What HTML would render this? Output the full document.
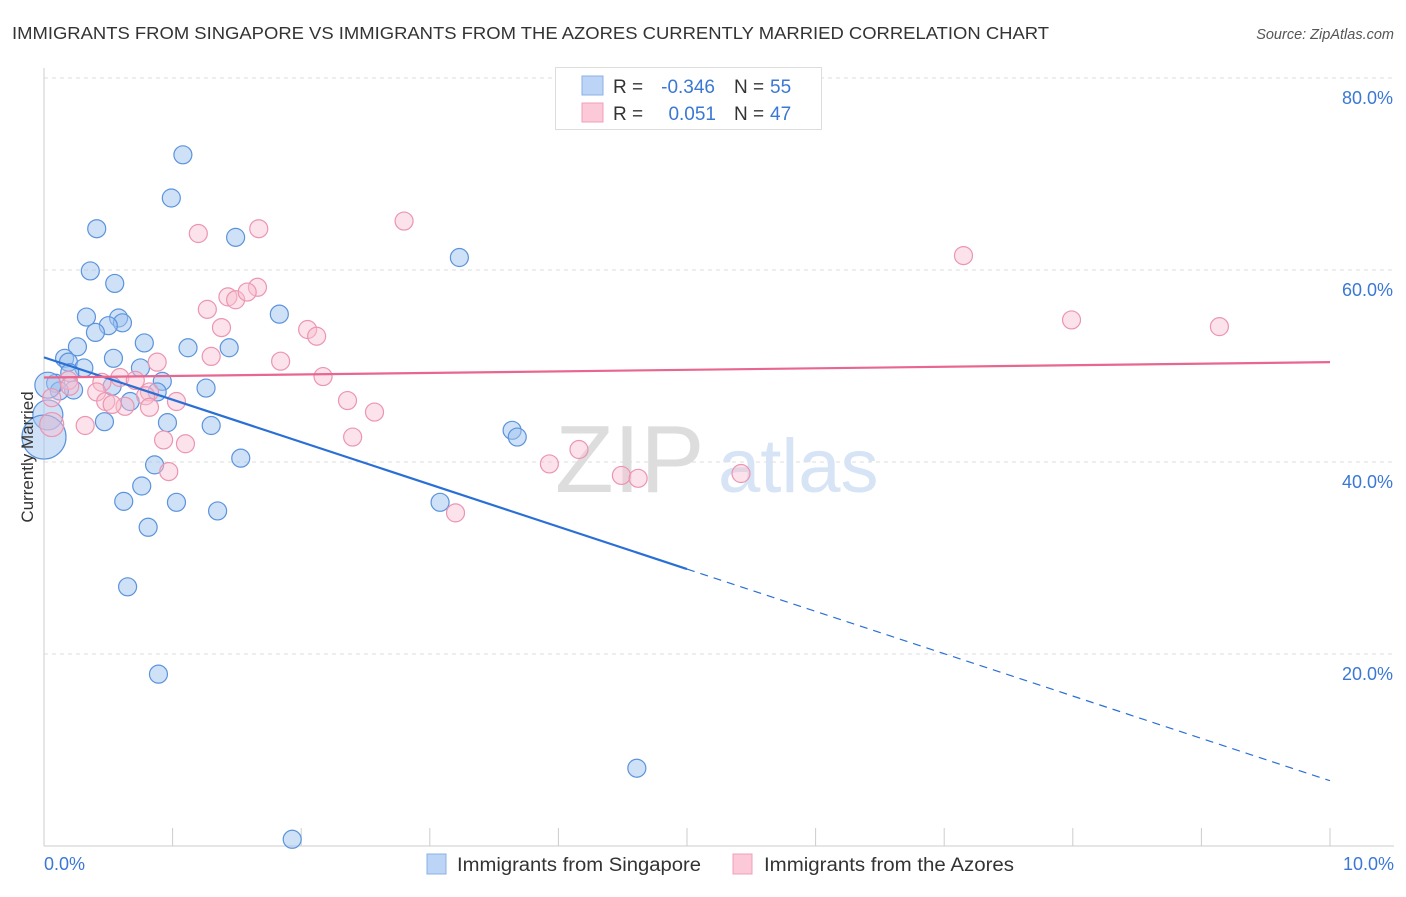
<!DOCTYPE html>
<html><head><meta charset="utf-8"><style>
body{margin:0;background:#fff;font-family:"Liberation Sans",sans-serif;}
svg text{font-family:"Liberation Sans",sans-serif;}
</style></head><body>
<svg id="chart" width="1406" height="892" xmlns="http://www.w3.org/2000/svg">
<text x="12" y="39" font-size="17.5" fill="#333" textLength="1037" lengthAdjust="spacingAndGlyphs">IMMIGRANTS FROM SINGAPORE VS IMMIGRANTS FROM THE AZORES CURRENTLY MARRIED CORRELATION CHART</text>
<text x="1394" y="39" font-size="14.5" fill="#555" font-style="italic" text-anchor="end">Source: ZipAtlas.com</text>
<g id="grid"></g>
<text x="555" y="492" font-size="96" fill="#ddd" font-family="Liberation Serif">ZIP</text>
<text x="718" y="492" font-size="76" fill="#d6e4f5">atlas</text>
<line x1="44" y1="68" x2="44" y2="846" stroke="#ccc"/>
<line x1="44" y1="846" x2="1394" y2="846" stroke="#ccc"/>
<g id="marks"></g>
<text transform="translate(33,457) rotate(-90)" font-size="17" fill="#333" text-anchor="middle">Currently Married</text>
<text x="44" y="870" font-size="18" fill="#3a78d4">0.0%</text>
<text x="1394" y="870" font-size="18" fill="#3a78d4" text-anchor="end">10.0%</text>
<g>
<rect x="555.5" y="67.5" width="266" height="62" fill="#fff" stroke="#ddd"/>
<rect x="582" y="76" width="21" height="19" fill="#bcd4f5" stroke="#8ab0e6"/>
<rect x="582" y="103" width="21" height="19" fill="#fbc9d7" stroke="#f0a0b8"/>
<text x="613" y="93" font-size="19" fill="#333">R =</text>
<text x="715" y="93" font-size="19" fill="#3a78d4" text-anchor="end">-0.346</text>
<text x="734" y="93" font-size="19" fill="#333">N =</text>
<text x="770" y="93" font-size="19" fill="#3a78d4">55</text>
<text x="613" y="120" font-size="19" fill="#333">R =</text>
<text x="716" y="120" font-size="19" fill="#3a78d4" text-anchor="end">0.051</text>
<text x="734" y="120" font-size="19" fill="#333">N =</text>
<text x="770" y="120" font-size="19" fill="#3a78d4">47</text>
</g>
<g>
<rect x="427" y="854" width="19" height="20" fill="#bcd4f5" stroke="#8ab0e6"/>
<text x="457" y="871" font-size="19" fill="#333" textLength="244" lengthAdjust="spacingAndGlyphs">Immigrants from Singapore</text>
<rect x="733" y="854" width="19" height="20" fill="#fbc9d7" stroke="#f0a0b8"/>
<text x="764" y="871" font-size="19" fill="#333" textLength="250" lengthAdjust="spacingAndGlyphs">Immigrants from the Azores</text>
</g>
</svg>
<script>
const yTicks=[20,40,60,80];
const yTickLabels=["20.0%","40.0%","60.0%","80.0%"];
const xTicks=[0,1,2,3,4,5,6,7,8,9,10];
const blueX=[1.08,0.99,0.41,1.49,3.23,0.36,0.55,1.83,0.33,0.58,0.61,0.50,0.40,0.78,1.12,1.44,0.26,0.16,0.54,0.19,0.75,0.31,0.20,0.92,1.26,0.09,0.53,0.23,0.12,0.88,0.67,0.96,1.30,3.64,3.68,0.47,0.03,0.0,0.86,1.53,0.76,0.62,1.03,3.08,1.35,0.81,0.65,0.89,4.61,1.93,0.03];
const blueY=[72.0,67.5,64.3,63.4,61.3,59.9,58.6,55.4,55.1,55.0,54.5,54.2,53.5,52.4,51.9,51.9,52.0,50.8,50.8,50.4,49.8,49.8,49.3,48.4,47.7,48.2,47.9,47.5,47.4,47.3,46.3,44.1,43.8,43.3,42.6,44.2,44.9,42.6,39.7,40.4,37.5,35.9,35.8,35.8,34.9,33.2,27.0,17.9,8.1,0.7,48.0];
const blueR=[9,9,9,9,9,9,9,9,9,9,9,9,9,9,9,9,9,9,9,9,9,9,9,9,9,9,9,9,9,9,9,9,9,9,9,9,15,22,9,9,9,9,9,9,9,9,9,9,9,9,13];
const pinkX=[2.80,1.67,1.20,7.15,1.66,1.43,1.49,1.58,1.27,7.99,9.14,2.05,2.12,1.38,0.88,1.30,1.84,0.45,2.17,0.19,0.59,0.71,0.82,0.41,0.48,0.63,0.53,0.79,1.03,0.82,2.36,2.57,1.10,0.93,2.40,0.32,0.06,0.97,3.93,4.16,4.49,4.62,5.42,3.20,0.06,0.20];
const pinkY=[65.1,64.3,63.8,61.5,58.2,57.2,56.9,57.7,55.9,54.8,54.1,53.8,53.1,54.0,50.4,51.0,50.5,48.3,48.9,48.5,48.8,48.5,47.3,47.3,46.3,45.8,46.0,46.9,46.3,45.7,46.4,45.2,41.9,42.3,42.6,43.8,43.9,39.0,39.8,41.3,38.6,38.3,38.8,34.7,46.7,47.9];
const pinkR=[9,9,9,9,9,9,9,9,9,9,9,9,9,9,9,9,9,9,9,9,9,9,9,9,9,9,9,9,9,9,9,9,9,9,9,9,12,9,9,9,9,9,9,9,9,9];
const blueTrend=[50.9,6.8];
const blueSolidEnd=5.0;
const pinkTrend=[48.8,50.4];
const NS="http://www.w3.org/2000/svg";
const sx=v=>44+v*128.6;
const sy=v=>846-v*9.6;
function mk(tag,attrs,parent){const e=document.createElementNS(NS,tag);for(const k in attrs)e.setAttribute(k,attrs[k]);parent.appendChild(e);return e;}
const grid=document.getElementById('grid');
const marks=document.getElementById('marks');
yTicks.forEach((t,i)=>{
  const l=mk('line',{x1:44,x2:1394,y1:sy(t),y2:sy(t),stroke:'#ddd','stroke-dasharray':'4,4'},grid);
  
  
  const tx=mk('text',{x:1393,y:sy(t)+26,'font-size':18,fill:'#3a78d4','text-anchor':'end'},grid);
  tx.textContent=yTickLabels[i];
  
  
});
xTicks.forEach(t=>{
  const l=mk('line',{x1:sx(t),x2:sx(t),y1:828,y2:846,stroke:'#ccc'},grid);
  
  
});
blueX.forEach((x,i)=>{
  const c=mk('circle',{cx:sx(x),cy:sy(blueY[i]),r:blueR[i],fill:'rgba(160,196,240,0.5)',stroke:'#5b93dc','stroke-width':1.2},marks);
  
  
});
pinkX.forEach((x,i)=>{
  const c=mk('circle',{cx:sx(x),cy:sy(pinkY[i]),r:pinkR[i],fill:'rgba(248,190,208,0.45)',stroke:'#ec95b1','stroke-width':1.2},marks);
  
  
});
const by=x=>blueTrend[0]+(blueTrend[1]-blueTrend[0])*x/10;
let l1=mk('line',{x1:sx(0),y1:sy(by(0)),x2:sx(blueSolidEnd),y2:sy(by(blueSolidEnd)),stroke:'#2a6fd6','stroke-width':2.2},marks);


let l2=mk('line',{x1:sx(blueSolidEnd),y1:sy(by(blueSolidEnd)),x2:sx(10),y2:sy(by(10)),stroke:'#2a6fd6','stroke-width':1.2,'stroke-dasharray':'8,6'},marks);


let l3=mk('line',{x1:sx(0),y1:sy(pinkTrend[0]),x2:sx(10),y2:sy(pinkTrend[1]),stroke:'#e8668f','stroke-width':2.2},marks);


</script>
</body></html>
